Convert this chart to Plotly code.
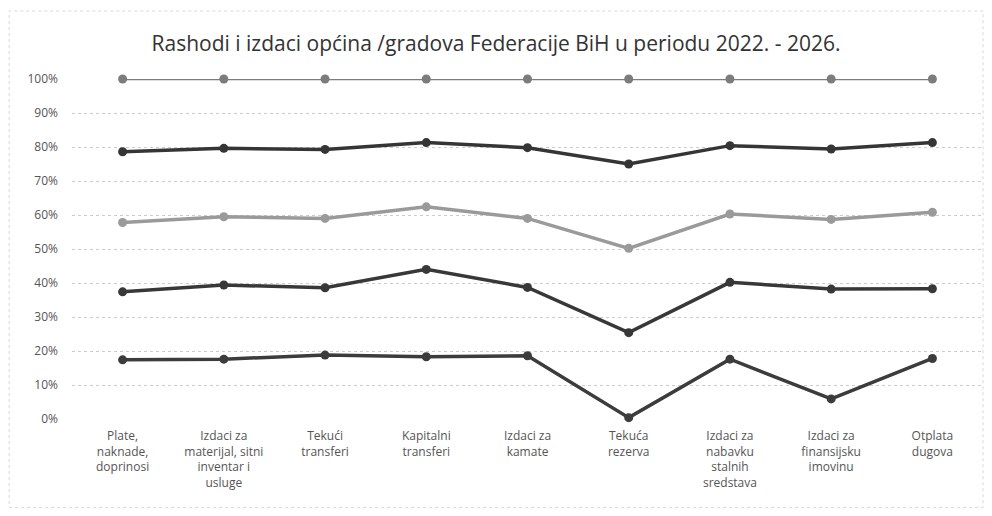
import plotly.graph_objects as go

categories = [
    "Plate,<br>naknade,<br>doprinosi",
    "Izdaci za<br>materijal, sitni<br>inventar i<br>usluge",
    "Tekući<br>transferi",
    "Kapitalni<br>transferi",
    "Izdaci za<br>kamate",
    "Tekuća<br>rezerva",
    "Izdaci za<br>nabavku<br>stalnih<br>sredstava",
    "Izdaci za<br>finansijsku<br>imovinu",
    "Otplata<br>dugova",
]

# cumulative (100% stacked) shares
s2022 = [17.4, 17.6, 18.8, 18.3, 18.6, 0.4, 17.6, 5.9, 17.8]
s2023 = [37.4, 39.4, 38.6, 44.0, 38.7, 25.4, 40.2, 38.2, 38.3]
s2024 = [57.8, 59.5, 59.0, 62.4, 59.0, 50.2, 60.3, 58.7, 60.8]
s2025 = [78.6, 79.6, 79.3, 81.3, 79.8, 75.0, 80.4, 79.4, 81.3]
s2026 = [100, 100, 100, 100, 100, 100, 100, 100, 100]

series_names = ["2022", "2023", "2024", "2025", "2026"]
series_values = [s2022, s2023, s2024, s2025, s2026]
series_colors = ["#3c3c3c", "#383838", "#9a9a9a", "#353535", "#7c7c7c"]
series_widths = [3.5, 3.5, 3.5, 3.5, 2.5]

tick_vals = [0, 10, 20, 30, 40, 50, 60, 70, 80, 90, 100]
tick_text = [f"{v}%" for v in tick_vals]

fig = go.Figure()
for name, vals, col, w in zip(series_names, series_values, series_colors, series_widths):
    fig.add_trace(go.Scatter(
        x=categories, y=vals, name=name, mode="lines+markers",
        line=dict(color=col, width=w),
        marker=dict(color=col, size=9),
        cliponaxis=False,
    ))

fig.update_layout(
    width=976, height=500,
    paper_bgcolor="white", plot_bgcolor="white",
    margin=dict(l=64, r=1, t=71, b=89),
    showlegend=False,
    title=dict(
        text="Rashodi i izdaci općina /gradova Federacije BiH u periodu 2022. - 2026.",
        x=0.5, xanchor="center", y=0.928, yanchor="middle",
        font=dict(family="Open Sans", size=21, color="#333333"),
    ),
    xaxis=dict(
        type="category", range=[-0.5, 8.5],
        showgrid=False, zeroline=False, showline=False, ticks="",
        ticklabelstandoff=8,
        tickfont=dict(family="Liberation Sans Narrow, Open Sans", size=12, color="#555555"),
    ),
    yaxis=dict(
        range=[0, 100], tickvals=tick_vals, ticktext=tick_text,
        showgrid=True, gridcolor="#cccccc", griddash="dot", gridwidth=1,
        zeroline=False, showline=False, ticks="",
        ticklabelstandoff=13,
        tickfont=dict(family="Open Sans", size=12, color="#555555"),
    ),
    shapes=[dict(type="rect", xref="paper", yref="paper",
                 x0=-0.069, x1=1.0, y0=-0.26, y1=1.2,
                 line=dict(color="#d8d8d8", width=1, dash="dot"))],
)

fig.write_html("out.html")
